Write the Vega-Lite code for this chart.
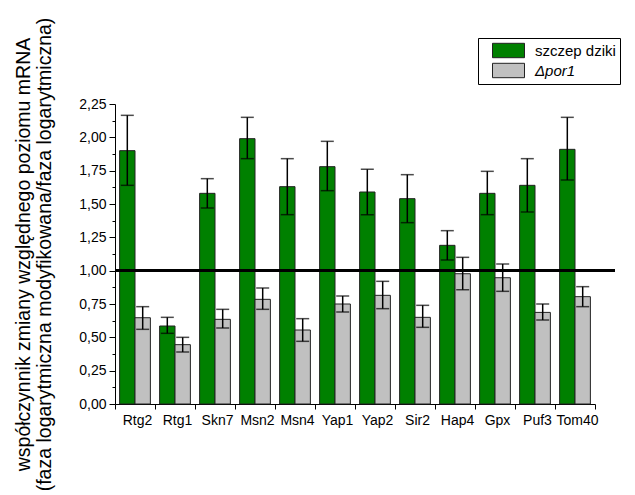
{
  "$schema": "https://vega.github.io/schema/vega-lite/v6.json",
  "autosize": "none",
  "width": 500,
  "height": 300,
  "padding": {"left": 115, "top": 104, "right": 20, "bottom": 91},
  "background": "white",
  "data": {
    "values": [
      {"gene": "Rtg2", "strain": "szczep dziki", "v": 1.90, "lo": 1.64, "hi": 2.165},
      {"gene": "Rtg2", "strain": "Δpor1", "v": 0.647, "lo": 0.56, "hi": 0.73},
      {"gene": "Rtg1", "strain": "szczep dziki", "v": 0.585, "lo": 0.53, "hi": 0.65},
      {"gene": "Rtg1", "strain": "Δpor1", "v": 0.445, "lo": 0.39, "hi": 0.50},
      {"gene": "Skn7", "strain": "szczep dziki", "v": 1.58, "lo": 1.47, "hi": 1.69},
      {"gene": "Skn7", "strain": "Δpor1", "v": 0.635, "lo": 0.57, "hi": 0.71},
      {"gene": "Msn2", "strain": "szczep dziki", "v": 1.99, "lo": 1.84, "hi": 2.15},
      {"gene": "Msn2", "strain": "Δpor1", "v": 0.785, "lo": 0.71, "hi": 0.87},
      {"gene": "Msn4", "strain": "szczep dziki", "v": 1.63, "lo": 1.42, "hi": 1.84},
      {"gene": "Msn4", "strain": "Δpor1", "v": 0.555, "lo": 0.47, "hi": 0.64},
      {"gene": "Yap1", "strain": "szczep dziki", "v": 1.78, "lo": 1.60, "hi": 1.97},
      {"gene": "Yap1", "strain": "Δpor1", "v": 0.75, "lo": 0.69, "hi": 0.81},
      {"gene": "Yap2", "strain": "szczep dziki", "v": 1.59, "lo": 1.42, "hi": 1.76},
      {"gene": "Yap2", "strain": "Δpor1", "v": 0.815, "lo": 0.715, "hi": 0.92},
      {"gene": "Sir2", "strain": "szczep dziki", "v": 1.54, "lo": 1.36, "hi": 1.72},
      {"gene": "Sir2", "strain": "Δpor1", "v": 0.65, "lo": 0.575, "hi": 0.74},
      {"gene": "Hap4", "strain": "szczep dziki", "v": 1.19, "lo": 1.08, "hi": 1.30},
      {"gene": "Hap4", "strain": "Δpor1", "v": 0.977, "lo": 0.857, "hi": 1.10},
      {"gene": "Gpx", "strain": "szczep dziki", "v": 1.58, "lo": 1.42, "hi": 1.745},
      {"gene": "Gpx", "strain": "Δpor1", "v": 0.947, "lo": 0.845, "hi": 1.05},
      {"gene": "Puf3", "strain": "szczep dziki", "v": 1.64, "lo": 1.44, "hi": 1.84},
      {"gene": "Puf3", "strain": "Δpor1", "v": 0.687, "lo": 0.63, "hi": 0.75},
      {"gene": "Tom40", "strain": "szczep dziki", "v": 1.91, "lo": 1.68, "hi": 2.15},
      {"gene": "Tom40", "strain": "Δpor1", "v": 0.805, "lo": 0.73, "hi": 0.88}
    ]
  },
  "layer": [
    {
      "mark": {"type": "bar", "stroke": "#222222", "strokeWidth": 1},
      "encoding": {
        "x": {
          "field": "gene",
          "type": "nominal",
          "sort": null,
          "scale": {"range": [0, 480], "paddingInner": 0, "paddingOuter": 0},
          "axis": {
            "title": null,
            "labelAngle": 0,
            "labelFontSize": 14,
            "labelPadding": 4,
            "labelOffset": 2,
            "tickBand": "extent",
            "tickSize": 5,
            "labelColor": "black",
            "tickColor": "black",
            "domainColor": "black"
          }
        },
        "xOffset": {
          "field": "strain",
          "type": "nominal",
          "scale": {"domain": ["szczep dziki", "Δpor1"], "paddingInner": 0, "paddingOuter": 0.3}
        },
        "y": {
          "field": "v",
          "type": "quantitative",
          "scale": {"domain": [0, 2.25], "nice": false},
          "axis": {
            "title": ["współczynnik zmiany względnego poziomu mRNA", "(faza logarytmiczna modyfikowana/faza logarytmiczna)"],
            "titleFontSize": 19.5,
            "titleFontWeight": "normal",
            "titleLineHeight": 21,
            "titleColor": "black",
            "titlePadding": 24,
            "grid": false,
            "tickCount": 40,
            "values": [0, 0.125, 0.25, 0.375, 0.5, 0.625, 0.75, 0.875, 1, 1.125, 1.25, 1.375, 1.5, 1.625, 1.75, 1.875, 2, 2.125, 2.25],
            "labelOverlap": false,
            "labelExpr": "abs(datum.value * 4 - round(datum.value * 4)) < 0.001 ? replace(format(datum.value, '.2f'), '.', ',') : ''",
            "tickSize": {"condition": {"test": "abs(datum.value * 4 - round(datum.value * 4)) < 0.001", "value": 6}, "value": 3},
            "labelFontSize": 14,
            "labelPadding": 3,
            "labelColor": "black",
            "tickColor": "black",
            "domainColor": "black"
          }
        },
        "color": {
          "field": "strain",
          "type": "nominal",
          "scale": {"domain": ["szczep dziki", "Δpor1"], "range": ["#008000", "#c0c0c0"]},
          "legend": {
            "title": null,
            "orient": "none",
            "legendX": 363,
            "legendY": -66,
            "strokeColor": "black",
            "padding": 4,
            "symbolOffset": 18,
            "symbolType": "M-2,-0.9H2V0.9H-2Z",
            "symbolSize": 256,
            "symbolStrokeColor": "#222222",
            "symbolStrokeWidth": 1,
            "labelFontSize": 15,
            "labelColor": "black",
            "labelOffset": 18,
            "rowPadding": 1,
            "encode": {
              "labels": {"update": {"fontStyle": {"signal": "datum.label === 'szczep dziki' ? 'normal' : 'italic'"}}},
              "symbols": {"update": {"fillOpacity": {"value": 1}}}
            }
          }
        }
      }
    },
    {
      "mark": {"type": "rule", "color": "black", "strokeWidth": 1.5},
      "encoding": {
        "x": {"field": "gene", "type": "nominal", "sort": null},
        "xOffset": {"field": "strain", "type": "nominal"},
        "y": {"field": "lo", "type": "quantitative"},
        "y2": {"field": "hi"}
      }
    },
    {
      "mark": {"type": "tick", "color": "black", "thickness": 1.5, "size": 13},
      "encoding": {
        "x": {"field": "gene", "type": "nominal", "sort": null},
        "xOffset": {"field": "strain", "type": "nominal"},
        "y": {"field": "hi", "type": "quantitative"}
      }
    },
    {
      "mark": {"type": "tick", "color": "black", "thickness": 1.5, "size": 13},
      "encoding": {
        "x": {"field": "gene", "type": "nominal", "sort": null},
        "xOffset": {"field": "strain", "type": "nominal"},
        "y": {"field": "lo", "type": "quantitative"}
      }
    },
    {
      "mark": {"type": "rule", "color": "black", "strokeWidth": 2.5},
      "encoding": {"y": {"datum": 1}}
    }
  ],
  "config": {
    "font": "Liberation Sans",
    "view": {"stroke": null},
    "axis": {"domainWidth": 1, "tickWidth": 1}
  }
}
